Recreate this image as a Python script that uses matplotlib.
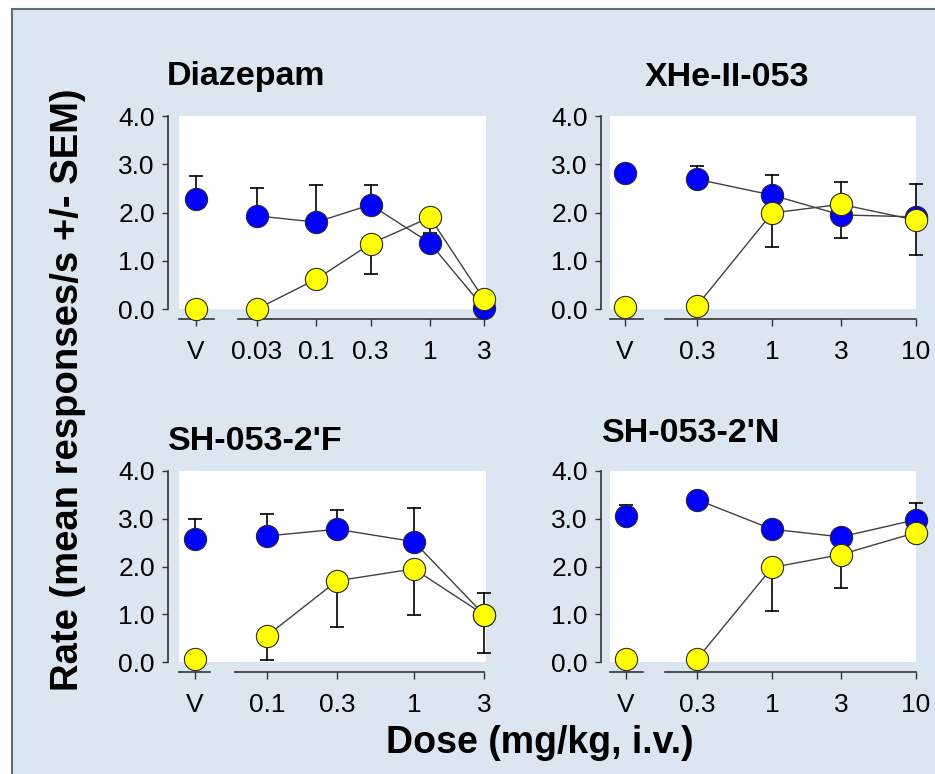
import numpy as np
import matplotlib
matplotlib.use("Agg")
from matplotlib import pyplot as plt
from matplotlib.patches import Rectangle

plt.rcParams['font.family'] = ['Liberation Sans', 'DejaVu Sans']

# ---- data ----
titles = ["Diazepam", "XHe-II-053", "SH-053-2'F", "SH-053-2'N"]

doses_1 = [0.03, 0.1, 0.3, 1, 3]
doses_2 = [0.3, 1, 3, 10]
doses_3 = [0.1, 0.3, 1, 3]
doses_4 = [0.3, 1, 3, 10]
dose_labels_1 = ["0.03", "0.1", "0.3", "1", "3"]
dose_labels_2 = ["0.3", "1", "3", "10"]
dose_labels_3 = ["0.1", "0.3", "1", "3"]
dose_labels_4 = ["0.3", "1", "3", "10"]

# blue series: vehicle value, vehicle SEM, dose means, SEM (drawn upward)
blue_v = [2.28, 2.82, 2.57, 3.05]
blue_v_err = [0.48, 0.0, 0.42, 0.23]
blue_1 = [1.93, 1.80, 2.16, 1.37, 0.02]
blue_err_1 = [0.58, 0.77, 0.41, 0.18, 0.0]
blue_2 = [2.69, 2.36, 1.95, 1.91]
blue_err_2 = [0.27, 0.42, 0.68, 0.69]
blue_3 = [2.64, 2.78, 2.52, 0.99]
blue_err_3 = [0.45, 0.40, 0.71, 0.46]
blue_4 = [3.40, 2.78, 2.62, 2.98]
blue_err_4 = [0.0, 0.0, 0.0, 0.36]

# yellow series: SEM drawn downward
yellow_v = [0.0, 0.04, 0.06, 0.06]
yellow_1 = [0.0, 0.62, 1.35, 1.90, 0.20]
yellow_err_1 = [0.0, 0.0, 0.63, 0.33, 0.0]
yellow_2 = [0.07, 1.99, 2.17, 1.84]
yellow_err_2 = [0.0, 0.71, 0.70, 0.72]
yellow_3 = [0.55, 1.70, 1.95, 0.99]
yellow_err_3 = [0.50, 0.96, 0.96, 0.80]
yellow_4 = [0.06, 1.98, 2.25, 2.71]
yellow_err_4 = [0.0, 0.92, 0.70, 0.0]

yticks = [0, 1, 2, 3, 4]
ytick_labels = ["0.0", "1.0", "2.0", "3.0", "4.0"]

# ---- layout (pixels) ----
W, H = 935, 774
layout = [
    dict(L=179, vx=196, vseg=214, dL=238, f=257, l=484, R=486, T=116, B=309, yx=168),
    dict(L=610, vx=625, vseg=643, dL=665, f=697, l=916, R=916, T=116, B=309, yx=601),
    dict(L=179, vx=195, vseg=210, dL=235, f=267, l=484, R=486, T=471, B=662, yx=168),
    dict(L=610, vx=626, vseg=643, dL=665, f=697, l=916, R=916, T=471, B=662, yx=601),
]
title_pos = [(167, 77), (645, 77), (168, 441), (602, 434)]

panels = [
    (doses_1, dose_labels_1, blue_1, blue_err_1, yellow_1, yellow_err_1),
    (doses_2, dose_labels_2, blue_2, blue_err_2, yellow_2, yellow_err_2),
    (doses_3, dose_labels_3, blue_3, blue_err_3, yellow_3, yellow_err_3),
    (doses_4, dose_labels_4, blue_4, blue_err_4, yellow_4, yellow_err_4),
]

bg = '#dce6f1'
spine_col = '#333333'
line_col = '#404040'
ms = 16
tick_fs = 19

fig = plt.figure(figsize=(W / 100, H / 100), dpi=100)
fig.patch.set_facecolor('white')
fig.patches.append(Rectangle((12 / W, -0.05), 1.1, 1 - 9 / H + 0.05, transform=fig.transFigure,
                             facecolor=bg, edgecolor='#55707e', linewidth=1.5, zorder=-10))


def fx(px):
    return px / W


def fy(py):
    return 1 - py / H


def err_bars(ax, x, y, e, sign):
    for xi, yi, ei in zip(x, y, e):
        if ei <= 0:
            continue
        end = yi + sign * ei
        ax.plot([xi, xi], [yi, end], color='black', lw=1.2, zorder=2, clip_on=False)
        ax.plot([xi], [end], marker='_', ms=10, mew=1.2, color='black', zorder=2, clip_on=False)


def draw_points(ax, x, yb, eb, yy, ey, connect):
    err_bars(ax, x, yb, eb, 1)
    err_bars(ax, x, yy, ey, -1)
    if connect:
        ax.plot(x, yb, '-', color=line_col, lw=1, zorder=1.5)
        ax.plot(x, yy, '-', color=line_col, lw=1, zorder=1.5)
    ax.plot(x, yb, 'o', ms=ms, mfc='#0000ff', mec='#2a2a2a', mew=0.8, zorder=3, clip_on=False)
    ax.plot(x, yy, 'o', ms=ms, mfc='#ffff00', mec='#2a2a2a', mew=0.8, zorder=4, clip_on=False)


for i, (doses, dlabels, yb, eb, yy, ey) in enumerate(panels):
    g = layout[i]
    top, bot = fy(g['T']), fy(g['B'])
    # vehicle axis
    axv = fig.add_axes([fx(g['L']), bot, fx(g['dL'] - g['L']), top - bot])
    axv.set_facecolor('white')
    axv.set_xlim(g['L'] - g['vx'], g['dL'] - g['vx'])
    axv.set_ylim(0, 4)
    for s in ['top', 'right']:
        axv.spines[s].set_visible(False)
    axv.spines['left'].set_position(('outward', (g['L'] - g['yx']) * 0.72))
    axv.spines['bottom'].set_position(('outward', 7.5))
    axv.spines['bottom'].set_bounds(g['L'] - g['vx'], g['vseg'] - g['vx'])
    for s in ['left', 'bottom']:
        axv.spines[s].set_color(spine_col)
        axv.spines[s].set_linewidth(1.2)
    axv.set_yticks(yticks)
    axv.set_yticklabels(ytick_labels)
    axv.set_xticks([0])
    axv.set_xticklabels(["V"])
    axv.tick_params(axis='y', length=4.5, width=1, color=spine_col, labelsize=tick_fs, pad=5)
    axv.tick_params(axis='x', length=5, width=1, color=spine_col, labelsize=tick_fs, pad=10)
    draw_points(axv, [0], [blue_v[i]], [blue_v_err[i]], [yellow_v[i]], [0.0], False)

    # dose axis (log)
    ppd = (g['l'] - g['f']) / np.log10(doses[-1] / doses[0])
    xmin = doses[0] / 10 ** ((g['f'] - g['dL']) / ppd)
    xmax = doses[-1] * 10 ** ((g['R'] - g['l']) / ppd)
    axd = fig.add_axes([fx(g['dL']), bot, fx(g['R'] - g['dL']), top - bot])
    axd.set_facecolor('white')
    axd.set_xscale('log')
    axd.set_xlim(xmin, xmax)
    axd.set_ylim(0, 4)
    for s in ['top', 'right', 'left']:
        axd.spines[s].set_visible(False)
    axd.spines['bottom'].set_position(('outward', 7.5))
    axd.spines['bottom'].set_bounds(xmin, doses[-1])
    axd.spines['bottom'].set_color(spine_col)
    axd.spines['bottom'].set_linewidth(1.2)
    axd.set_yticks([])
    axd.set_xticks(doses)
    axd.set_xticklabels(dlabels)
    axd.xaxis.set_minor_locator(matplotlib.ticker.NullLocator())
    axd.tick_params(axis='x', length=5, width=1, color=spine_col, labelsize=tick_fs, pad=10)
    draw_points(axd, doses, yb, eb, yy, ey, True)

    tx, ty = title_pos[i]
    fig.text(fx(tx), fy(ty), titles[i], fontsize=24.5, fontweight='bold', ha='left', va='center')

fig.text(fx(68), fy(390), "Rate (mean responses/s +/- SEM)", fontsize=27.5, fontweight='bold',
         rotation=90, ha='center', va='center')
fig.text(fx(540), fy(743), "Dose (mg/kg, i.v.)", fontsize=27, fontweight='bold',
         ha='center', va='center')

fig.savefig("out.png", dpi=100, facecolor=fig.get_facecolor())
